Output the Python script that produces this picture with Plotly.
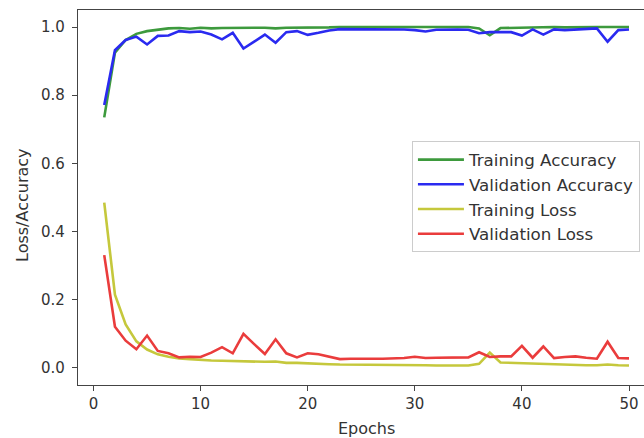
import plotly.graph_objects as go

epochs = list(range(1, 51))

train_acc = [0.735, 0.925, 0.962, 0.980, 0.988, 0.993, 0.996, 0.997, 0.995, 0.998,
             0.996, 0.997, 0.998, 0.997, 0.998, 0.998, 0.996, 0.998, 0.998, 0.997,
             0.999, 0.999, 1.000, 1.000, 1.000, 0.999, 1.000, 1.000, 1.000, 1.000,
             1.000, 1.000, 1.000, 1.000, 1.000, 0.996, 0.976, 0.997, 0.998, 0.998,
             0.999, 0.999, 1.000, 0.999, 1.000, 1.000, 1.000, 1.000, 1.000, 1.000]

val_acc = [0.771, 0.932, 0.962, 0.972, 0.949, 0.974, 0.975, 0.988, 0.985, 0.987,
           0.978, 0.964, 0.983, 0.937, 0.957, 0.978, 0.954, 0.985, 0.988, 0.977,
           0.983, 0.990, 0.994, 0.994, 0.993, 0.993, 0.993, 0.993, 0.993, 0.991,
           0.987, 0.992, 0.993, 0.993, 0.992, 0.982, 0.985, 0.986, 0.985, 0.975,
           0.993, 0.978, 0.993, 0.991, 0.993, 0.994, 0.996, 0.957, 0.991, 0.993]

train_loss = [0.485, 0.215, 0.128, 0.078, 0.054, 0.040, 0.033, 0.028, 0.026, 0.023,
              0.022, 0.021, 0.020, 0.019, 0.018, 0.018, 0.019, 0.015, 0.015, 0.013,
              0.012, 0.011, 0.010, 0.010, 0.009, 0.009, 0.008, 0.008, 0.008, 0.008,
              0.008, 0.007, 0.007, 0.007, 0.007, 0.012, 0.045, 0.016, 0.015, 0.013,
              0.011, 0.010, 0.009, 0.008, 0.008, 0.008, 0.008, 0.010, 0.008, 0.007]

val_loss = [0.331, 0.121, 0.080, 0.055, 0.095, 0.050, 0.043, 0.031, 0.033, 0.032,
            0.045, 0.061, 0.043, 0.100, 0.070, 0.041, 0.084, 0.043, 0.031, 0.043,
            0.040, 0.033, 0.026, 0.027, 0.028, 0.027, 0.027, 0.028, 0.029, 0.033,
            0.029, 0.030, 0.030, 0.031, 0.031, 0.046, 0.032, 0.034, 0.034, 0.065,
            0.030, 0.063, 0.029, 0.032, 0.034, 0.030, 0.027, 0.077, 0.029, 0.028]

series = [
    ("Training Accuracy", train_acc, "#3d9a3d"),
    ("Validation Accuracy", val_acc, "#2a2af0"),
    ("Training Loss", train_loss, "#c5c83c"),
    ("Validation Loss", val_loss, "#ea3c3c"),
]

x_ticks = [0, 10, 20, 30, 40, 50]
y_ticks = [0.0, 0.2, 0.4, 0.6, 0.8, 1.0]

FONT = "DejaVu Sans"

fig = go.Figure()
for i, (name, vals, color) in enumerate(series):
    fig.add_trace(go.Scatter(
        x=epochs, y=vals, mode="lines", name=name,
        legendgroup=f"g{i}",
        line=dict(color=color, width=2.6),
    ))

fig.update_layout(
    width=644, height=438,
    margin=dict(l=78, r=0, t=10, b=53),
    paper_bgcolor="white", plot_bgcolor="white",
    font=dict(family=FONT, size=15, color="#333333"),
    showlegend=True,
    legend=dict(
        x=0.590, y=0.650, xanchor="left", yanchor="top",
        bgcolor="white", bordercolor="#cccccc", borderwidth=1,
        font=dict(family=FONT, size=16.7, color="#333333"),
        itemwidth=46, tracegroupgap=0,
    ),
    xaxis=dict(
        range=[-1.45, 51.4], tickvals=x_ticks, ticktext=[str(v) for v in x_ticks],
        showgrid=False, zeroline=False, showline=True, linecolor="#444444",
        linewidth=1.2, mirror=True, ticks="outside", ticklen=5, tickcolor="#444444",
        tickfont=dict(family=FONT, size=15, color="#333333"),
    ),
    yaxis=dict(
        range=[-0.05, 1.05], tickvals=y_ticks, ticktext=[f"{v:.1f}" for v in y_ticks],
        showgrid=False, zeroline=False, showline=True, linecolor="#444444",
        linewidth=1.2, mirror=False, ticks="outside", ticklen=5, tickcolor="#444444",
        tickfont=dict(family=FONT, size=15, color="#333333"),
        ticklabelstandoff=4,
    ),
    annotations=[
        dict(text="Epochs", xref="paper", yref="paper", x=(366 - 78) / 566,
             y=(385 - 428) / 375, xanchor="center", yanchor="middle",
             showarrow=False, font=dict(family=FONT, size=16, color="#333333")),
        dict(text="Loss/Accuracy", xref="paper", yref="paper", x=(22 - 78) / 566,
             y=(385 - 205) / 375, xanchor="center", yanchor="middle", textangle=-90,
             showarrow=False, font=dict(family=FONT, size=16, color="#333333")),
    ],
)

fig.write_html("out.html")
